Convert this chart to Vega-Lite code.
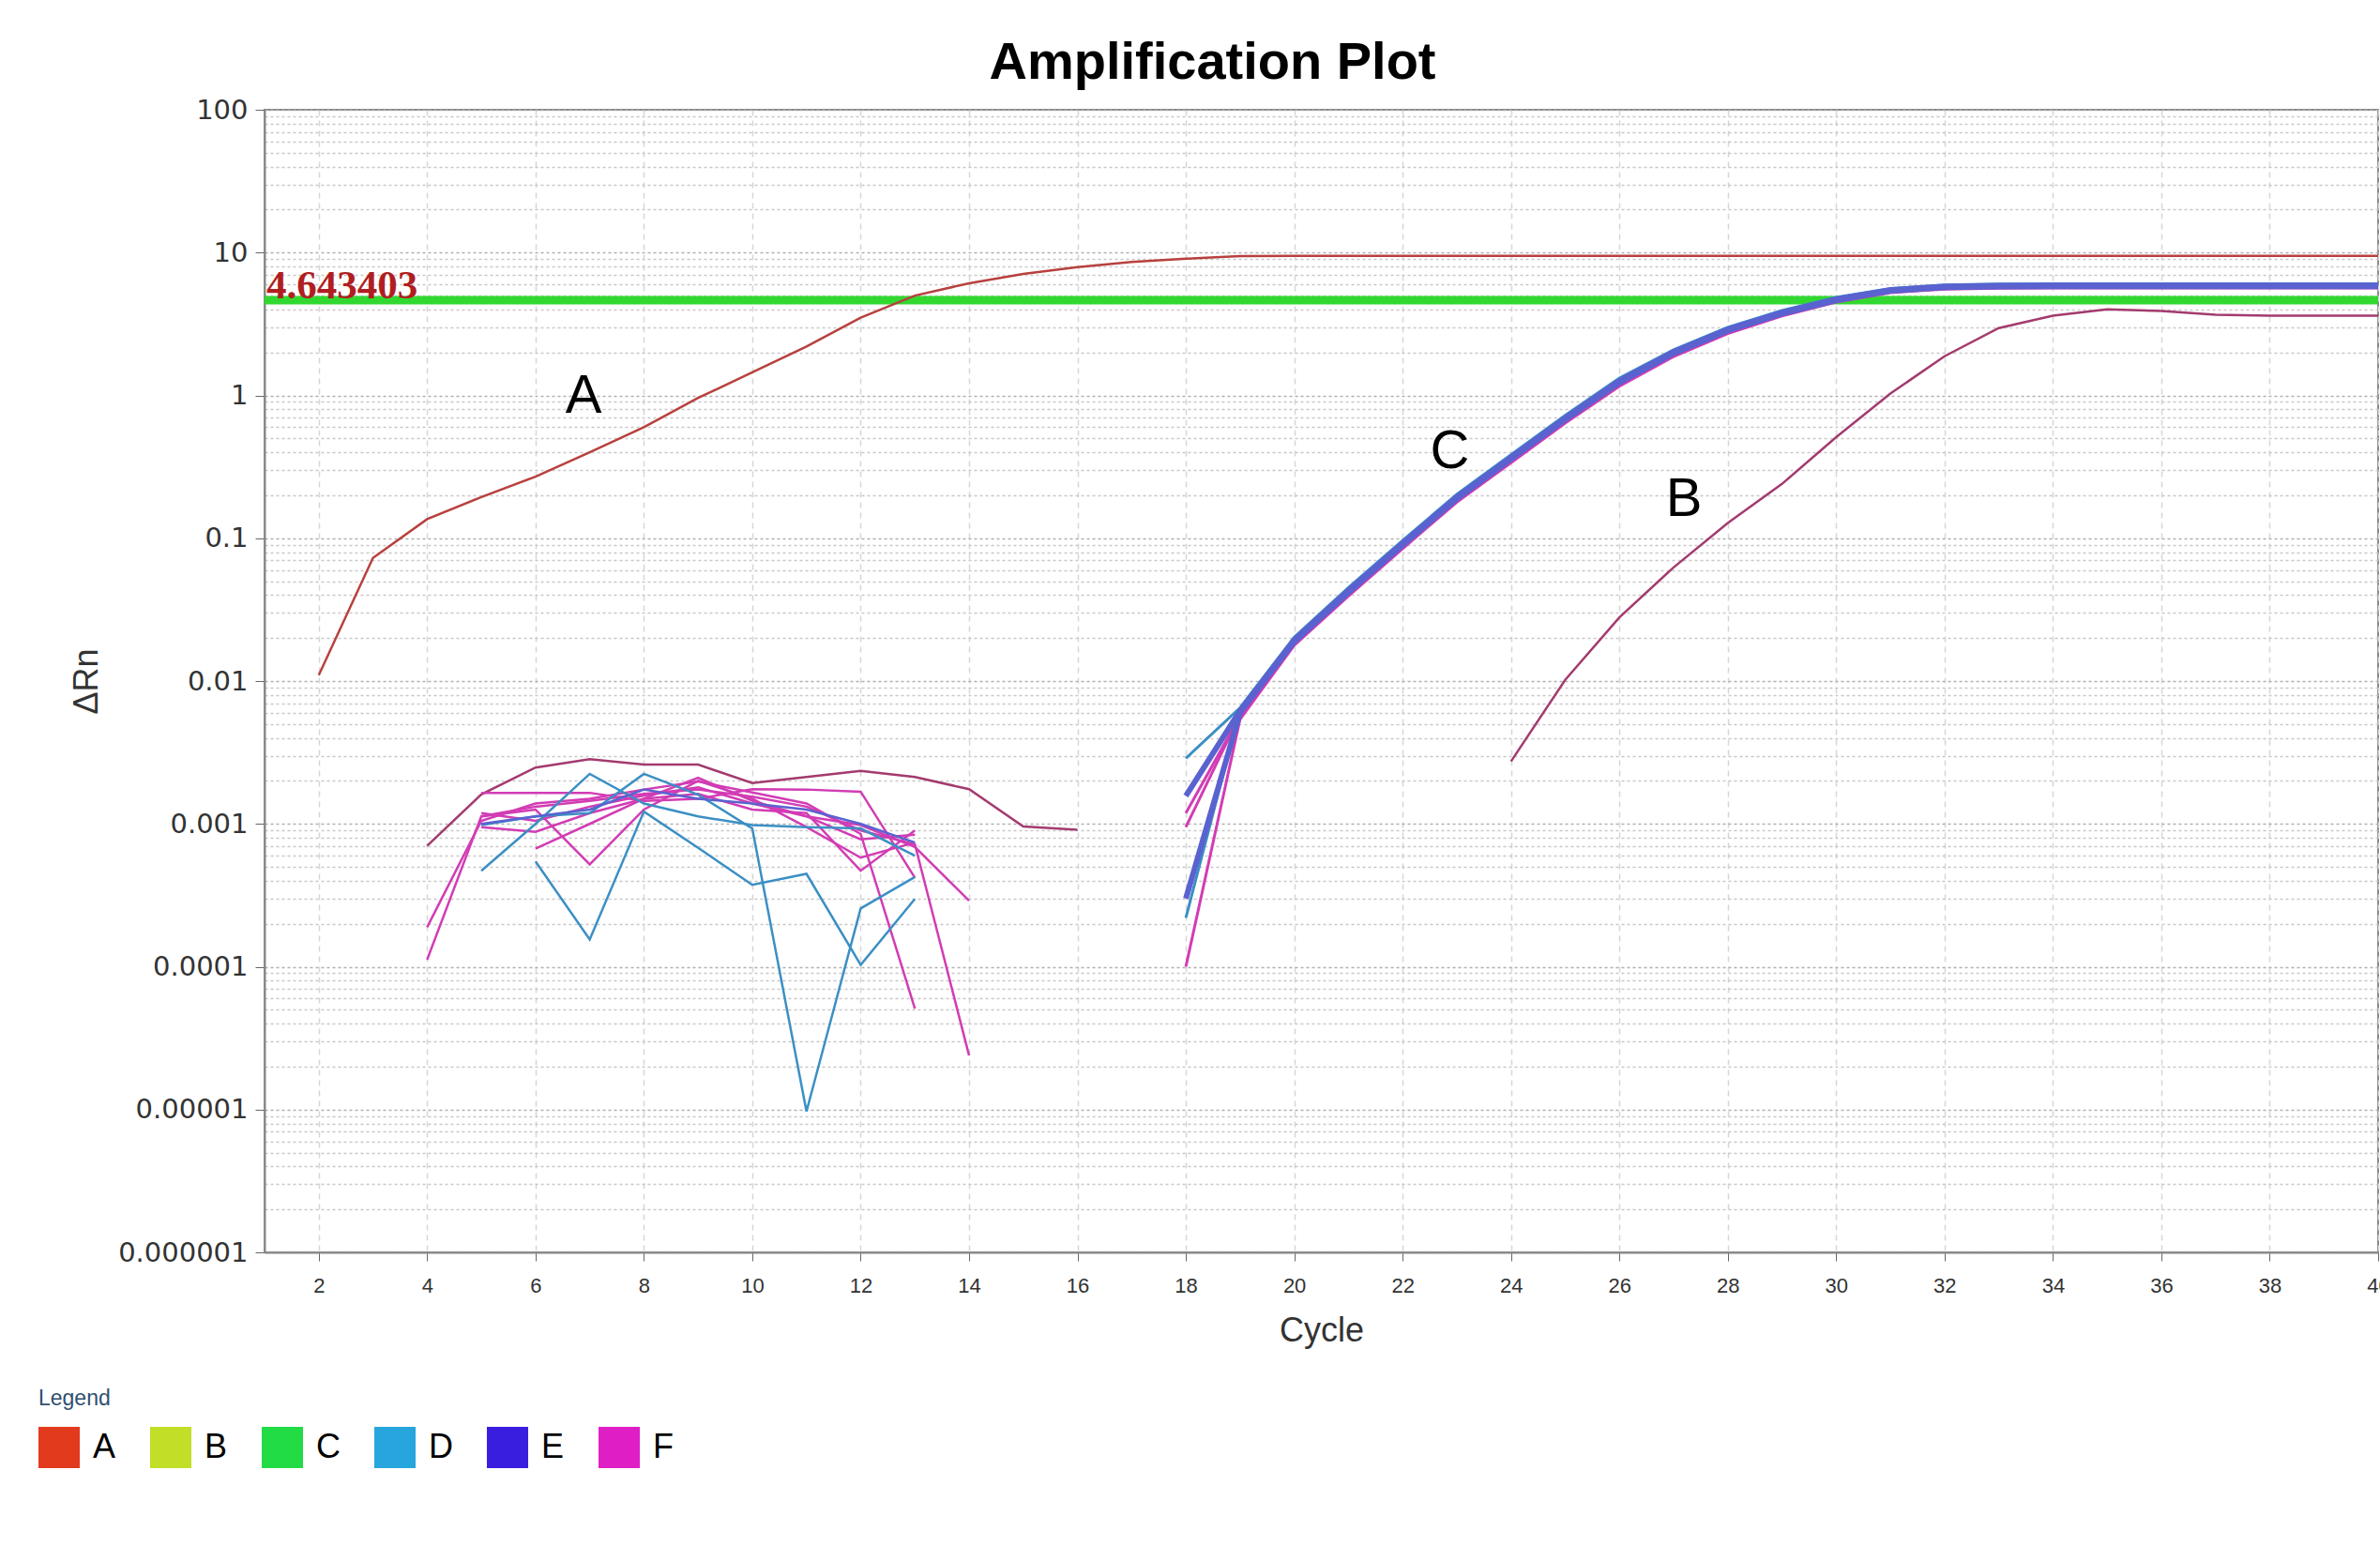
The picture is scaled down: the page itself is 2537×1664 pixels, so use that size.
{
  "$schema": "https://vega.github.io/schema/vega-lite/v6.json",
  "width": 2253,
  "height": 1218,
  "autosize": {"type": "none"},
  "padding": {"left": 282, "top": 117, "right": 2, "bottom": 329},
  "background": "white",
  "title": {"text": "Amplification Plot", "font": "Liberation Sans", "fontSize": 56, "fontWeight": "bold", "color": "#000000", "anchor": "middle", "frame": "group", "offset": 7, "dx": -116},
  "config": {
    "view": {"stroke": "#8a8a8a", "strokeWidth": 2},
    "font": "Liberation Sans"
  },
  "datasets": {
    "curves": [
      {"id":"N1","w":"B","k":"n","c":4,"v":0.000703},{"id":"N1","w":"B","k":"n","c":5,"v":0.00161},{"id":"N1","w":"B","k":"n","c":6,"v":0.00248},{"id":"N1","w":"B","k":"n","c":7,"v":0.00284},{"id":"N1","w":"B","k":"n","c":8,"v":0.0026},{"id":"N1","w":"B","k":"n","c":9,"v":0.0026},{"id":"N1","w":"B","k":"n","c":10,"v":0.00193},{"id":"N1","w":"B","k":"n","c":11,"v":0.00213},{"id":"N1","w":"B","k":"n","c":12,"v":0.00235},{"id":"N1","w":"B","k":"n","c":13,"v":0.00213},{"id":"N1","w":"B","k":"n","c":14,"v":0.00175},{"id":"N1","w":"B","k":"n","c":15,"v":0.00096},{"id":"N1","w":"B","k":"n","c":16,"v":0.00091},
      {"id":"N2","w":"F","k":"n","c":4,"v":0.000189},{"id":"N2","w":"F","k":"n","c":5,"v":0.00105},{"id":"N2","w":"F","k":"n","c":6,"v":0.00139},{"id":"N2","w":"F","k":"n","c":7,"v":0.0015},{"id":"N2","w":"F","k":"n","c":8,"v":0.00174},{"id":"N2","w":"F","k":"n","c":9,"v":0.00198},{"id":"N2","w":"F","k":"n","c":10,"v":0.00166},{"id":"N2","w":"F","k":"n","c":11,"v":0.00139},{"id":"N2","w":"F","k":"n","c":12,"v":0.00085},{"id":"N2","w":"F","k":"n","c":13,"v":0.000051},
      {"id":"N3","w":"F","k":"n","c":4,"v":0.000112},{"id":"N3","w":"F","k":"n","c":5,"v":0.00113},{"id":"N3","w":"F","k":"n","c":6,"v":0.00132},{"id":"N3","w":"F","k":"n","c":7,"v":0.00145},{"id":"N3","w":"F","k":"n","c":8,"v":0.00162},{"id":"N3","w":"F","k":"n","c":9,"v":0.00174},{"id":"N3","w":"F","k":"n","c":10,"v":0.00155},{"id":"N3","w":"F","k":"n","c":11,"v":0.00132},{"id":"N3","w":"F","k":"n","c":12,"v":0.0009},{"id":"N3","w":"F","k":"n","c":13,"v":0.00072},{"id":"N3","w":"F","k":"n","c":14,"v":0.0000239},
      {"id":"N4","w":"F","k":"n","c":5,"v":0.00165},{"id":"N4","w":"F","k":"n","c":6,"v":0.00165},{"id":"N4","w":"F","k":"n","c":7,"v":0.00165},{"id":"N4","w":"F","k":"n","c":8,"v":0.00145},{"id":"N4","w":"F","k":"n","c":9,"v":0.0015},{"id":"N4","w":"F","k":"n","c":10,"v":0.00175},{"id":"N4","w":"F","k":"n","c":11,"v":0.00174},{"id":"N4","w":"F","k":"n","c":12,"v":0.00168},{"id":"N4","w":"F","k":"n","c":13,"v":0.00042},
      {"id":"N5","w":"F","k":"n","c":5,"v":0.00119},{"id":"N5","w":"F","k":"n","c":6,"v":0.00105},{"id":"N5","w":"F","k":"n","c":7,"v":0.00132},{"id":"N5","w":"F","k":"n","c":8,"v":0.00158},{"id":"N5","w":"F","k":"n","c":9,"v":0.0018},{"id":"N5","w":"F","k":"n","c":10,"v":0.00139},{"id":"N5","w":"F","k":"n","c":11,"v":0.00113},{"id":"N5","w":"F","k":"n","c":12,"v":0.00098},{"id":"N5","w":"F","k":"n","c":13,"v":0.00069},{"id":"N5","w":"F","k":"n","c":14,"v":0.00029},
      {"id":"N6","w":"F","k":"n","c":5,"v":0.00095},{"id":"N6","w":"F","k":"n","c":6,"v":0.00088},{"id":"N6","w":"F","k":"n","c":7,"v":0.00119},{"id":"N6","w":"F","k":"n","c":8,"v":0.0015},{"id":"N6","w":"F","k":"n","c":9,"v":0.00162},{"id":"N6","w":"F","k":"n","c":10,"v":0.00126},{"id":"N6","w":"F","k":"n","c":11,"v":0.00119},{"id":"N6","w":"F","k":"n","c":12,"v":0.00047},{"id":"N6","w":"F","k":"n","c":13,"v":0.0009},
      {"id":"N7","w":"F","k":"n","c":6,"v":0.00067},{"id":"N7","w":"F","k":"n","c":7,"v":0.001},{"id":"N7","w":"F","k":"n","c":8,"v":0.0015},{"id":"N7","w":"F","k":"n","c":9,"v":0.0021},{"id":"N7","w":"F","k":"n","c":10,"v":0.00145},{"id":"N7","w":"F","k":"n","c":11,"v":0.00113},{"id":"N7","w":"F","k":"n","c":12,"v":0.00078},{"id":"N7","w":"F","k":"n","c":13,"v":0.00084},
      {"id":"N8","w":"F","k":"n","c":5,"v":0.00113},{"id":"N8","w":"F","k":"n","c":6,"v":0.00126},{"id":"N8","w":"F","k":"n","c":7,"v":0.00052},{"id":"N8","w":"F","k":"n","c":8,"v":0.00126},{"id":"N8","w":"F","k":"n","c":9,"v":0.002},{"id":"N8","w":"F","k":"n","c":10,"v":0.0015},{"id":"N8","w":"F","k":"n","c":11,"v":0.00095},{"id":"N8","w":"F","k":"n","c":12,"v":0.00058},{"id":"N8","w":"F","k":"n","c":13,"v":0.00074},
      {"id":"D1","w":"D","k":"n","c":5,"v":0.000469},{"id":"D1","w":"D","k":"n","c":6,"v":0.001},{"id":"D1","w":"D","k":"n","c":7,"v":0.00224},{"id":"D1","w":"D","k":"n","c":8,"v":0.00139},{"id":"D1","w":"D","k":"n","c":9,"v":0.00113},{"id":"D1","w":"D","k":"n","c":10,"v":0.00098},{"id":"D1","w":"D","k":"n","c":11,"v":0.00095},{"id":"D1","w":"D","k":"n","c":12,"v":0.00093},{"id":"D1","w":"D","k":"n","c":13,"v":0.0006},
      {"id":"D2","w":"D","k":"n","c":6,"v":0.000546},{"id":"D2","w":"D","k":"n","c":7,"v":0.000155},{"id":"D2","w":"D","k":"n","c":8,"v":0.00122},{"id":"D2","w":"D","k":"n","c":9,"v":0.00068},{"id":"D2","w":"D","k":"n","c":10,"v":0.000374},{"id":"D2","w":"D","k":"n","c":11,"v":0.000447},{"id":"D2","w":"D","k":"n","c":12,"v":0.000103},{"id":"D2","w":"D","k":"n","c":13,"v":0.000298},
      {"id":"D3","w":"D","k":"n","c":5,"v":0.00098},{"id":"D3","w":"D","k":"n","c":6,"v":0.00113},{"id":"D3","w":"D","k":"n","c":7,"v":0.00119},{"id":"D3","w":"D","k":"n","c":8,"v":0.00224},{"id":"D3","w":"D","k":"n","c":9,"v":0.0016},{"id":"D3","w":"D","k":"n","c":10,"v":0.000927},{"id":"D3","w":"D","k":"n","c":11,"v":0.0000097},{"id":"D3","w":"D","k":"n","c":12,"v":0.000256},{"id":"D3","w":"D","k":"n","c":13,"v":0.000425},
      {"id":"E1","w":"E","k":"n","c":5,"v":0.001},{"id":"E1","w":"E","k":"n","c":6,"v":0.00113},{"id":"E1","w":"E","k":"n","c":7,"v":0.00126},{"id":"E1","w":"E","k":"n","c":8,"v":0.00174},{"id":"E1","w":"E","k":"n","c":9,"v":0.0015},{"id":"E1","w":"E","k":"n","c":10,"v":0.00139},{"id":"E1","w":"E","k":"n","c":11,"v":0.00126},{"id":"E1","w":"E","k":"n","c":12,"v":0.001},{"id":"E1","w":"E","k":"n","c":13,"v":0.00074},

      {"id":"A","w":"A","k":"c","c":2,"v":0.011},{"id":"A","w":"A","k":"c","c":3,"v":0.0727},{"id":"A","w":"A","k":"c","c":4,"v":0.136},{"id":"A","w":"A","k":"c","c":5,"v":0.194},{"id":"A","w":"A","k":"c","c":6,"v":0.27},{"id":"A","w":"A","k":"c","c":7,"v":0.4},{"id":"A","w":"A","k":"c","c":8,"v":0.6},{"id":"A","w":"A","k":"c","c":9,"v":0.96},{"id":"A","w":"A","k":"c","c":10,"v":1.45},{"id":"A","w":"A","k":"c","c":11,"v":2.2},{"id":"A","w":"A","k":"c","c":12,"v":3.5},{"id":"A","w":"A","k":"c","c":13,"v":5.0},{"id":"A","w":"A","k":"c","c":14,"v":6.1},{"id":"A","w":"A","k":"c","c":15,"v":7.1},{"id":"A","w":"A","k":"c","c":16,"v":7.9},{"id":"A","w":"A","k":"c","c":17,"v":8.6},{"id":"A","w":"A","k":"c","c":18,"v":9.05},{"id":"A","w":"A","k":"c","c":19,"v":9.45},{"id":"A","w":"A","k":"c","c":20,"v":9.5},{"id":"A","w":"A","k":"c","c":21,"v":9.5},{"id":"A","w":"A","k":"c","c":22,"v":9.5},{"id":"A","w":"A","k":"c","c":23,"v":9.5},{"id":"A","w":"A","k":"c","c":24,"v":9.5},{"id":"A","w":"A","k":"c","c":25,"v":9.5},{"id":"A","w":"A","k":"c","c":26,"v":9.5},{"id":"A","w":"A","k":"c","c":27,"v":9.5},{"id":"A","w":"A","k":"c","c":28,"v":9.5},{"id":"A","w":"A","k":"c","c":29,"v":9.5},{"id":"A","w":"A","k":"c","c":30,"v":9.5},{"id":"A","w":"A","k":"c","c":31,"v":9.5},{"id":"A","w":"A","k":"c","c":32,"v":9.5},{"id":"A","w":"A","k":"c","c":33,"v":9.5},{"id":"A","w":"A","k":"c","c":34,"v":9.5},{"id":"A","w":"A","k":"c","c":35,"v":9.5},{"id":"A","w":"A","k":"c","c":36,"v":9.5},{"id":"A","w":"A","k":"c","c":37,"v":9.5},{"id":"A","w":"A","k":"c","c":38,"v":9.5},{"id":"A","w":"A","k":"c","c":39,"v":9.5},{"id":"A","w":"A","k":"c","c":40,"v":9.5},

      {"id":"B","w":"B","k":"c","c":24,"v":0.00274},{"id":"B","w":"B","k":"c","c":25,"v":0.0102},{"id":"B","w":"B","k":"c","c":26,"v":0.0279},{"id":"B","w":"B","k":"c","c":27,"v":0.0625},{"id":"B","w":"B","k":"c","c":28,"v":0.128},{"id":"B","w":"B","k":"c","c":29,"v":0.24},{"id":"B","w":"B","k":"c","c":30,"v":0.51},{"id":"B","w":"B","k":"c","c":31,"v":1.03},{"id":"B","w":"B","k":"c","c":32,"v":1.88},{"id":"B","w":"B","k":"c","c":33,"v":2.96},{"id":"B","w":"B","k":"c","c":34,"v":3.62},{"id":"B","w":"B","k":"c","c":35,"v":4.0},{"id":"B","w":"B","k":"c","c":36,"v":3.9},{"id":"B","w":"B","k":"c","c":37,"v":3.67},{"id":"B","w":"B","k":"c","c":38,"v":3.62},{"id":"B","w":"B","k":"c","c":39,"v":3.62},{"id":"B","w":"B","k":"c","c":40,"v":3.62},

      {"id":"C7","w":"F","k":"b","c":18,"v":0.0001},{"id":"C7","w":"F","k":"b","c":19,"v":0.0054},{"id":"C7","w":"F","k":"b","c":20,"v":0.0178},{"id":"C7","w":"F","k":"b","c":21,"v":0.0394},{"id":"C7","w":"F","k":"b","c":22,"v":0.0845},{"id":"C7","w":"F","k":"b","c":23,"v":0.179},{"id":"C7","w":"F","k":"b","c":24,"v":0.338},{"id":"C7","w":"F","k":"b","c":25,"v":0.64},{"id":"C7","w":"F","k":"b","c":26,"v":1.16},{"id":"C7","w":"F","k":"b","c":27,"v":1.87},{"id":"C7","w":"F","k":"b","c":28,"v":2.71},{"id":"C7","w":"F","k":"b","c":29,"v":3.6},{"id":"C7","w":"F","k":"b","c":30,"v":4.5},{"id":"C7","w":"F","k":"b","c":31,"v":5.24},{"id":"C7","w":"F","k":"b","c":32,"v":5.55},{"id":"C7","w":"F","k":"b","c":33,"v":5.63},{"id":"C7","w":"F","k":"b","c":34,"v":5.65},{"id":"C7","w":"F","k":"b","c":35,"v":5.65},{"id":"C7","w":"F","k":"b","c":36,"v":5.65},{"id":"C7","w":"F","k":"b","c":37,"v":5.65},{"id":"C7","w":"F","k":"b","c":38,"v":5.65},{"id":"C7","w":"F","k":"b","c":39,"v":5.65},{"id":"C7","w":"F","k":"b","c":40,"v":5.65},
      {"id":"C3","w":"F","k":"b","c":18,"v":0.00119},{"id":"C3","w":"F","k":"b","c":19,"v":0.0057},{"id":"C3","w":"F","k":"b","c":20,"v":0.0183},{"id":"C3","w":"F","k":"b","c":21,"v":0.0403},{"id":"C3","w":"F","k":"b","c":22,"v":0.0865},{"id":"C3","w":"F","k":"b","c":23,"v":0.183},{"id":"C3","w":"F","k":"b","c":24,"v":0.346},{"id":"C3","w":"F","k":"b","c":25,"v":0.655},{"id":"C3","w":"F","k":"b","c":26,"v":1.19},{"id":"C3","w":"F","k":"b","c":27,"v":1.91},{"id":"C3","w":"F","k":"b","c":28,"v":2.76},{"id":"C3","w":"F","k":"b","c":29,"v":3.66},{"id":"C3","w":"F","k":"b","c":30,"v":4.56},{"id":"C3","w":"F","k":"b","c":31,"v":5.3},{"id":"C3","w":"F","k":"b","c":32,"v":5.61},{"id":"C3","w":"F","k":"b","c":33,"v":5.69},{"id":"C3","w":"F","k":"b","c":34,"v":5.71},{"id":"C3","w":"F","k":"b","c":35,"v":5.71},{"id":"C3","w":"F","k":"b","c":36,"v":5.71},{"id":"C3","w":"F","k":"b","c":37,"v":5.71},{"id":"C3","w":"F","k":"b","c":38,"v":5.71},{"id":"C3","w":"F","k":"b","c":39,"v":5.71},{"id":"C3","w":"F","k":"b","c":40,"v":5.71},
      {"id":"C4","w":"F","k":"b","c":18,"v":0.00095},{"id":"C4","w":"F","k":"b","c":19,"v":0.0058},{"id":"C4","w":"F","k":"b","c":20,"v":0.0184},{"id":"C4","w":"F","k":"b","c":21,"v":0.0405},{"id":"C4","w":"F","k":"b","c":22,"v":0.087},{"id":"C4","w":"F","k":"b","c":23,"v":0.184},{"id":"C4","w":"F","k":"b","c":24,"v":0.348},{"id":"C4","w":"F","k":"b","c":25,"v":0.66},{"id":"C4","w":"F","k":"b","c":26,"v":1.2},{"id":"C4","w":"F","k":"b","c":27,"v":1.93},{"id":"C4","w":"F","k":"b","c":28,"v":2.78},{"id":"C4","w":"F","k":"b","c":29,"v":3.68},{"id":"C4","w":"F","k":"b","c":30,"v":4.58},{"id":"C4","w":"F","k":"b","c":31,"v":5.33},{"id":"C4","w":"F","k":"b","c":32,"v":5.64},{"id":"C4","w":"F","k":"b","c":33,"v":5.72},{"id":"C4","w":"F","k":"b","c":34,"v":5.74},{"id":"C4","w":"F","k":"b","c":35,"v":5.74},{"id":"C4","w":"F","k":"b","c":36,"v":5.74},{"id":"C4","w":"F","k":"b","c":37,"v":5.74},{"id":"C4","w":"F","k":"b","c":38,"v":5.74},{"id":"C4","w":"F","k":"b","c":39,"v":5.74},{"id":"C4","w":"F","k":"b","c":40,"v":5.74},
      {"id":"C1","w":"D","k":"b","c":18,"v":0.00288},{"id":"C1","w":"D","k":"b","c":19,"v":0.0065},{"id":"C1","w":"D","k":"b","c":20,"v":0.0203},{"id":"C1","w":"D","k":"b","c":21,"v":0.0452},{"id":"C1","w":"D","k":"b","c":22,"v":0.0965},{"id":"C1","w":"D","k":"b","c":23,"v":0.203},{"id":"C1","w":"D","k":"b","c":24,"v":0.385},{"id":"C1","w":"D","k":"b","c":25,"v":0.725},{"id":"C1","w":"D","k":"b","c":26,"v":1.32},{"id":"C1","w":"D","k":"b","c":27,"v":2.09},{"id":"C1","w":"D","k":"b","c":28,"v":3.0},{"id":"C1","w":"D","k":"b","c":29,"v":3.93},{"id":"C1","w":"D","k":"b","c":30,"v":4.85},{"id":"C1","w":"D","k":"b","c":31,"v":5.6},{"id":"C1","w":"D","k":"b","c":32,"v":5.94},{"id":"C1","w":"D","k":"b","c":33,"v":6.02},{"id":"C1","w":"D","k":"b","c":34,"v":6.04},{"id":"C1","w":"D","k":"b","c":35,"v":6.04},{"id":"C1","w":"D","k":"b","c":36,"v":6.04},{"id":"C1","w":"D","k":"b","c":37,"v":6.04},{"id":"C1","w":"D","k":"b","c":38,"v":6.04},{"id":"C1","w":"D","k":"b","c":39,"v":6.04},{"id":"C1","w":"D","k":"b","c":40,"v":6.04},
      {"id":"C6","w":"D","k":"b","c":18,"v":0.00022},{"id":"C6","w":"D","k":"b","c":19,"v":0.0063},{"id":"C6","w":"D","k":"b","c":20,"v":0.0198},{"id":"C6","w":"D","k":"b","c":21,"v":0.044},{"id":"C6","w":"D","k":"b","c":22,"v":0.094},{"id":"C6","w":"D","k":"b","c":23,"v":0.198},{"id":"C6","w":"D","k":"b","c":24,"v":0.376},{"id":"C6","w":"D","k":"b","c":25,"v":0.708},{"id":"C6","w":"D","k":"b","c":26,"v":1.29},{"id":"C6","w":"D","k":"b","c":27,"v":2.05},{"id":"C6","w":"D","k":"b","c":28,"v":2.95},{"id":"C6","w":"D","k":"b","c":29,"v":3.87},{"id":"C6","w":"D","k":"b","c":30,"v":4.78},{"id":"C6","w":"D","k":"b","c":31,"v":5.52},{"id":"C6","w":"D","k":"b","c":32,"v":5.86},{"id":"C6","w":"D","k":"b","c":33,"v":5.94},{"id":"C6","w":"D","k":"b","c":34,"v":5.96},{"id":"C6","w":"D","k":"b","c":35,"v":5.96},{"id":"C6","w":"D","k":"b","c":36,"v":5.96},{"id":"C6","w":"D","k":"b","c":37,"v":5.96},{"id":"C6","w":"D","k":"b","c":38,"v":5.96},{"id":"C6","w":"D","k":"b","c":39,"v":5.96},{"id":"C6","w":"D","k":"b","c":40,"v":5.96},
      {"id":"C2","w":"E","k":"b","c":18,"v":0.00157},{"id":"C2","w":"E","k":"b","c":19,"v":0.0062},{"id":"C2","w":"E","k":"b","c":20,"v":0.0194},{"id":"C2","w":"E","k":"b","c":21,"v":0.043},{"id":"C2","w":"E","k":"b","c":22,"v":0.092},{"id":"C2","w":"E","k":"b","c":23,"v":0.194},{"id":"C2","w":"E","k":"b","c":24,"v":0.368},{"id":"C2","w":"E","k":"b","c":25,"v":0.694},{"id":"C2","w":"E","k":"b","c":26,"v":1.265},{"id":"C2","w":"E","k":"b","c":27,"v":2.01},{"id":"C2","w":"E","k":"b","c":28,"v":2.9},{"id":"C2","w":"E","k":"b","c":29,"v":3.81},{"id":"C2","w":"E","k":"b","c":30,"v":4.71},{"id":"C2","w":"E","k":"b","c":31,"v":5.46},{"id":"C2","w":"E","k":"b","c":32,"v":5.79},{"id":"C2","w":"E","k":"b","c":33,"v":5.87},{"id":"C2","w":"E","k":"b","c":34,"v":5.89},{"id":"C2","w":"E","k":"b","c":35,"v":5.89},{"id":"C2","w":"E","k":"b","c":36,"v":5.89},{"id":"C2","w":"E","k":"b","c":37,"v":5.89},{"id":"C2","w":"E","k":"b","c":38,"v":5.89},{"id":"C2","w":"E","k":"b","c":39,"v":5.89},{"id":"C2","w":"E","k":"b","c":40,"v":5.89},
      {"id":"C5","w":"E","k":"b","c":18,"v":0.0003},{"id":"C5","w":"E","k":"b","c":19,"v":0.006},{"id":"C5","w":"E","k":"b","c":20,"v":0.0189},{"id":"C5","w":"E","k":"b","c":21,"v":0.0418},{"id":"C5","w":"E","k":"b","c":22,"v":0.0895},{"id":"C5","w":"E","k":"b","c":23,"v":0.189},{"id":"C5","w":"E","k":"b","c":24,"v":0.358},{"id":"C5","w":"E","k":"b","c":25,"v":0.677},{"id":"C5","w":"E","k":"b","c":26,"v":1.23},{"id":"C5","w":"E","k":"b","c":27,"v":1.97},{"id":"C5","w":"E","k":"b","c":28,"v":2.84},{"id":"C5","w":"E","k":"b","c":29,"v":3.74},{"id":"C5","w":"E","k":"b","c":30,"v":4.64},{"id":"C5","w":"E","k":"b","c":31,"v":5.39},{"id":"C5","w":"E","k":"b","c":32,"v":5.71},{"id":"C5","w":"E","k":"b","c":33,"v":5.79},{"id":"C5","w":"E","k":"b","c":34,"v":5.81},{"id":"C5","w":"E","k":"b","c":35,"v":5.81},{"id":"C5","w":"E","k":"b","c":36,"v":5.81},{"id":"C5","w":"E","k":"b","c":37,"v":5.81},{"id":"C5","w":"E","k":"b","c":38,"v":5.81},{"id":"C5","w":"E","k":"b","c":39,"v":5.81},{"id":"C5","w":"E","k":"b","c":40,"v":5.81}
    ],
    "legendrows": [{"w":"A"},{"w":"B"},{"w":"C"},{"w":"D"},{"w":"E"},{"w":"F"}],
    "threshold": [{"c":1,"v":4.643403,"label":"4.643403"}],
    "notes": [{"c":6.886,"v":0.759,"label":"A"},{"c":27.19,"v":0.1435,"label":"B"},{"c":22.87,"v":0.308,"label":"C"}]
  },
  "layer": [
    {
      "data": {"name": "threshold"},
      "mark": {"type": "rule", "color": "#30d830", "strokeWidth": 9},
      "encoding": {
        "y": {
          "field": "v", "type": "quantitative",
          "scale": {"type": "log", "domain": [0.000001, 100], "nice": false},
          "axis": {
            "title": "ΔRn", "titleFont": "Liberation Sans", "titleFontSize": 36, "titleFontWeight": "normal", "titleColor": "#333333", "titlePadding": 14,
            "values": [0.000001,0.000002,0.000003,0.000004,0.000005,0.000006,0.000007,0.000008,0.000009,0.00001,0.00002,0.00003,0.00004,0.00005,0.00006,0.00007,0.00008,0.00009,0.0001,0.0002,0.0003,0.0004,0.0005,0.0006,0.0007,0.0008,0.0009,0.001,0.002,0.003,0.004,0.005,0.006,0.007,0.008,0.009,0.01,0.02,0.03,0.04,0.05,0.06,0.07,0.08,0.09,0.1,0.2,0.3,0.4,0.5,0.6,0.7,0.8,0.9,1,2,3,4,5,6,7,8,9,10,20,30,40,50,60,70,80,90,100],
            "format": "~g",
            "labelExpr": "abs(log(datum.value)/LN10 - round(log(datum.value)/LN10)) < 0.01 ? datum.label : ''",
            "labelFont": "DejaVu Sans", "labelFontSize": 29, "labelColor": "#333333", "labelPadding": 8, "labelOverlap": false,
            "tickSize": 10, "tickColor": "#666666",
            "tickOpacity": {"condition": {"test": "abs(log(datum.value)/LN10 - round(log(datum.value)/LN10)) < 0.01", "value": 1}, "value": 0},
            "grid": true,
            "gridColor": {"condition": {"test": "abs(log(datum.value)/LN10 - round(log(datum.value)/LN10)) < 0.01", "value": "#b0b0b0"}, "value": "#c8c8c8"},
            "gridDash": [3, 3], "gridWidth": 1.5,
            "domainColor": "#8a8a8a", "domainWidth": 2
          }
        }
      }
    },
    {
      "data": {"name": "curves"},
      "transform": [{"filter": "datum.k == 'n'"}],
      "mark": {"type": "line", "strokeWidth": 2.5},
      "encoding": {
        "x": {
          "field": "c", "type": "quantitative",
          "scale": {"domain": [1, 40], "nice": false, "zero": false},
          "axis": {
            "title": "Cycle", "titleFont": "Liberation Sans", "titleFontSize": 36, "titleFontWeight": "normal", "titleColor": "#333333", "titlePadding": 20,
            "values": [2,4,6,8,10,12,14,16,18,20,22,24,26,28,30,32,34,36,38,40],
            "format": "d",
            "labelFont": "Liberation Sans", "labelFontSize": 22, "labelColor": "#333333", "labelPadding": 16, "labelFlush": false, "labelOverlap": false,
            "tickSize": 9, "tickColor": "#666666",
            "grid": true, "gridColor": "#d6d6d6", "gridDash": [6, 5], "gridWidth": 1.5,
            "domainColor": "#8a8a8a", "domainWidth": 2
          }
        },
        "y": {"field": "v", "type": "quantitative"},
        "detail": {"field": "id", "type": "nominal"},
        "stroke": {"field": "w", "type": "nominal", "scale": {"domain": ["A","B","D","E","F"], "range": ["#b8403e","#a33b6e","#3b8fc4","#5a62d0","#d23cb4"]}, "legend": null}
      }
    },
    {
      "data": {"name": "curves"},
      "transform": [{"filter": "datum.k == 'c'"}],
      "mark": {"type": "line", "strokeWidth": 2.5},
      "encoding": {
        "x": {"field": "c", "type": "quantitative"},
        "y": {"field": "v", "type": "quantitative"},
        "detail": {"field": "id", "type": "nominal"},
        "stroke": {"field": "w", "type": "nominal", "legend": null}
      }
    },
    {
      "data": {"name": "curves"},
      "transform": [{"filter": "datum.k == 'b' && datum.w != 'E'"}],
      "mark": {"type": "line", "strokeWidth": 3},
      "encoding": {
        "x": {"field": "c", "type": "quantitative"},
        "y": {"field": "v", "type": "quantitative"},
        "detail": {"field": "id", "type": "nominal"},
        "stroke": {"field": "w", "type": "nominal", "legend": null}
      }
    },
    {
      "data": {"name": "curves"},
      "transform": [{"filter": "datum.k == 'b' && datum.w == 'E'"}],
      "mark": {"type": "line", "strokeWidth": 6},
      "encoding": {
        "x": {"field": "c", "type": "quantitative"},
        "y": {"field": "v", "type": "quantitative"},
        "detail": {"field": "id", "type": "nominal"},
        "stroke": {"field": "w", "type": "nominal", "legend": null}
      }
    },
    {
      "data": {"name": "threshold"},
      "mark": {"type": "text", "align": "left", "baseline": "alphabetic", "dx": 2, "dy": -2, "font": "Liberation Serif", "fontWeight": "bold", "fontSize": 43, "color": "#b01e22"},
      "encoding": {
        "x": {"field": "c", "type": "quantitative"},
        "y": {"field": "v", "type": "quantitative"},
        "text": {"field": "label"}
      }
    },
    {
      "data": {"name": "notes"},
      "mark": {"type": "text", "align": "center", "baseline": "alphabetic", "font": "Liberation Sans", "fontSize": 58, "color": "#000000"},
      "encoding": {
        "x": {"field": "c", "type": "quantitative"},
        "y": {"field": "v", "type": "quantitative"},
        "text": {"field": "label"}
      }
    },
    {
      "data": {"name": "legendrows"},
      "mark": {"type": "square", "size": 0, "filled": true},
      "encoding": {
        "color": {
          "field": "w", "type": "nominal",
          "scale": {"domain": ["A","B","C","D","E","F"], "range": ["#e23a1c","#c2de26","#22dc46","#26a6dc","#3a1ee0","#e01ec6"]},
          "legend": {
            "orient": "none", "legendX": -241, "legendY": 1363, "direction": "horizontal",
            "title": "Legend", "titleFont": "Liberation Sans", "titleFontSize": 23, "titleFontWeight": "normal", "titleColor": "#2f4f6f", "titlePadding": 18, "titleAnchor": "start",
            "symbolType": "square", "symbolSize": 1936, "symbolStrokeWidth": 0, "symbolOpacity": 1,
            "labelFont": "Liberation Sans", "labelFontSize": 36, "labelColor": "#000000", "labelOffset": 14,
            "columnPadding": 36, "padding": 0
          }
        }
      }
    }
  ]
}
